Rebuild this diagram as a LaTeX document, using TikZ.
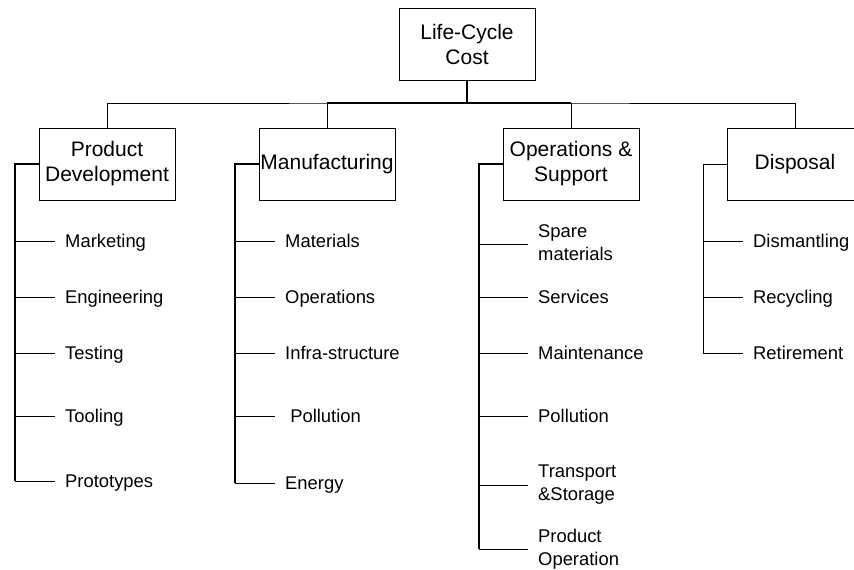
\documentclass[tikz,border=0pt]{standalone}
\usepackage{fontspec}
\setmainfont{Liberation Sans}
\newcommand\itemstrut{\rule[-0.15em]{0pt}{1.02em}}
\tikzset{
  costbox/.style={draw, line width=0.8pt, minimum width=136pt, minimum height=72pt, inner sep=0pt, align=center, font=\fontsize{21}{25}\selectfont},
  item/.style={anchor=west, inner xsep=10pt, inner ysep=0pt, align=left, font=\fontsize{18.4}{23}\selectfont,
    execute at begin node=\itemstrut, execute at end node=\itemstrut},
  link/.style={line width=0.8pt},
  trunk/.style={line width=1.5pt}
}
\begin{document}
\begin{tikzpicture}[x=1pt,y=-1pt]
\useasboundingbox (0,0) rectangle (854,570);
\clip (0,0) rectangle (854,570);
\node [costbox] (lcc) at (467,44) {Life-Cycle\\Cost};
\node [costbox] (pd) at (107,164) {Product\\Development};
\node [costbox] (mf) at (327,164) {Manufacturing};
\node [costbox] (os) at (571,164) {Operations \&\\Support};
\node [costbox] (dp) at (795,164) {Disposal};
\coordinate (bus) at (467,103);
\coordinate (pdv) at (15,164);
\coordinate (mfv) at (235,164);
\coordinate (osv) at (479,164);
\coordinate (dpv) at (703,164);
% product development
\node [item] (mkt) at (55,241) {Marketing};
\node [item] (eng) at (55,297) {Engineering};
\node [item] (tst) at (55,353) {Testing};
\node [item] (tool) at (55,416) {Tooling};
\node [item] (proto) at (55,481) {Prototypes};
% manufacturing
\node [item] (mat) at (275,241) {Materials};
\node [item] (ops) at (275,297) {Operations};
\node [item] (infra) at (275,353) {Infra-structure};
\node [item] (poll) at (275,416) {\ Pollution};
\node [item] (nrg) at (275,483) {Energy};
% operations and support
\node [item] (spare) at (528,244) {Spare\\materials};
\node [item] (serv) at (528,297) {Services};
\node [item] (maint) at (528,353) {Maintenance};
\node [item] (opoll) at (528,416) {Pollution};
\node [item] (trans) at (528,485) {Transport\\\&Storage};
\node [item] (prodop) at (528,549) {Product\\Operation};
% disposal
\node [item] (dism) at (743,241) {Dismantling};
\node [item] (recy) at (743,297) {Recycling};
\node [item] (reti) at (743,353) {Retirement};
% tree
\draw [trunk] (lcc.south) -- (bus);
\draw [link] (pd.north) |- (bus) -| (dp.north);
\draw [trunk] (mf.north |- bus) -- (os.north |- bus);
\draw [link] (mf.north) -- (mf.north |- bus);
\draw [link] (os.north) -- (os.north |- bus);
\draw [trunk] (pd.west) -- (pdv) -- (pdv |- proto.west);
\draw [trunk] (mf.west) -- (mfv) -- (mfv |- nrg.west);
\draw [trunk] (os.west) -- (osv) -- (osv |- prodop.west);
\draw [link] (dp.west) -- (dpv) -- (dpv |- reti.west);
\draw [link] (pdv |- mkt.west) -- (mkt.west);
\draw [link] (pdv |- eng.west) -- (eng.west);
\draw [link] (pdv |- tst.west) -- (tst.west);
\draw [link] (pdv |- tool.west) -- (tool.west);
\draw [link] (pdv |- proto.west) -- (proto.west);
\draw [link] (mfv |- mat.west) -- (mat.west);
\draw [link] (mfv |- ops.west) -- (ops.west);
\draw [link] (mfv |- infra.west) -- (infra.west);
\draw [link] (mfv |- poll.west) -- (poll.west);
\draw [link] (mfv |- nrg.west) -- (nrg.west);
\draw [link] (osv |- spare.west) -- (spare.west);
\draw [link] (osv |- serv.west) -- (serv.west);
\draw [link] (osv |- maint.west) -- (maint.west);
\draw [link] (osv |- opoll.west) -- (opoll.west);
\draw [link] (osv |- trans.west) -- (trans.west);
\draw [link] (osv |- prodop.west) -- (prodop.west);
\draw [link] (dpv |- dism.west) -- (dism.west);
\draw [link] (dpv |- recy.west) -- (recy.west);
\draw [link] (dpv |- reti.west) -- (reti.west);
\end{tikzpicture}
\end{document}
